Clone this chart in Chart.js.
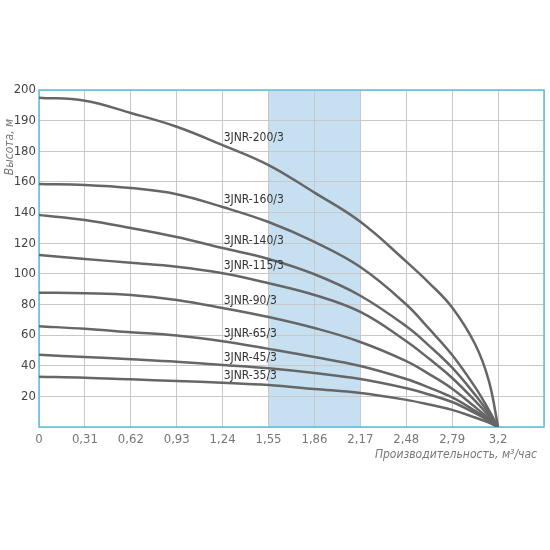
<!DOCTYPE html>
<html>
<head>
<meta charset="utf-8">
<script src="https://cdn.jsdelivr.net/npm/chart.js@4/dist/chart.umd.min.js"></script>
<style>
    html, body { margin: 0; padding: 0; background: #fff; }
    #grafico { display: block; }
</style>
</head>
<body>
<canvas id="grafico" width="550" height="550"></canvas>
<script>
// eixo x em divisões da grade (0..11), rótulos vêm da figura
const rotulosX = ['0', '0,31', '0,62', '0,93', '1,24', '1,55', '1,86', '2,17', '2,48', '2,79', '3,2', ''];
// eixo y em divisões de 20 (0..220)
const rotulosY = ['', '20', '40', '60', '80', '100', '120', '140', '160', '180', '190', '200'];

const pontosX = [0, 1, 2, 3, 4, 5, 6, 7, 8, 8.5, 9, 9.5, 9.8, 10];

const nomesBombas = ['3JNR-200/3', '3JNR-160/3', '3JNR-140/3', '3JNR-115/3', '3JNR-90/3', '3JNR-65/3', '3JNR-45/3', '3JNR-35/3'];

const alturas200 = [215, 213, 205, 196, 184, 171, 153, 134, 108, 94, 78, 54, 30, 0];
const alturas160 = [158.6, 158, 156, 152, 143.6, 133.8, 120.8, 104.4, 80, 64, 47, 26, 11, 0];
const alturas140 = [138.4, 135.1, 129.9, 124, 116.8, 109.7, 99.7, 85.7, 65.7, 53, 38.7, 21, 9, 0];
const alturas115 = [112.3, 109.7, 107.2, 104.6, 100.4, 93.9, 86.2, 75.1, 56, 44.5, 32, 17, 7.2, 0];
const alturas90 = [87.7, 87.3, 86.2, 82.9, 77.7, 71.8, 64.6, 55.5, 43, 34.5, 25, 13, 5.5, 0];
const alturas65 = [65.8, 64.1, 61.9, 59.7, 56, 51, 45.7, 39.8, 31.3, 25.7, 19.3, 10.5, 4.5, 0];
const alturas45 = [47.1, 45.7, 44.2, 42.6, 40.5, 38.3, 35.2, 31.3, 25.3, 21.2, 16.3, 9, 4, 0];
const alturas35 = [32.8, 32.2, 31.1, 30, 28.9, 27.4, 24.8, 22.2, 17.7, 14.7, 11.2, 6.2, 2.8, 0];

const todasAlturas = [alturas200, alturas160, alturas140, alturas115, alturas90, alturas65, alturas45, alturas35];

// faixa azul de trabalho (divisões da grade)
const faixaInicio = 5;
const faixaFim = 7;

const FONTE = '"Liberation Sans Narrow", "DejaVu Sans Condensed", "Arial Narrow", sans-serif';
const COR_BORDA = '#5cc0d8';

function montarDatasets() {
    var lista = [];
    for (let i = 0; i < nomesBombas.length; i++) {
        lista.push({
            label: nomesBombas[i],
            data: pontosX.map((x, j) => ({ x: x, y: todasAlturas[i][j] })),
            showLine: true,
            borderColor: '#666666',
            borderWidth: 2.5,
            pointRadius: 0,
            tension: 0.4,
            fill: false
        });
    }
    return lista;
}

const pluginFundo = {
    id: 'fundo',
    beforeDraw(chart) {
        const ctx = chart.ctx;
        const area = chart.chartArea;
        const x = chart.scales.x;
        ctx.save();
        ctx.fillStyle = '#c6e0f1';
        var x0 = x.getPixelForValue(faixaInicio);
        var x1 = x.getPixelForValue(faixaFim);
        ctx.fillRect(x0, area.top, x1 - x0, area.bottom - area.top);
        ctx.restore();
    },
    beforeDatasetsDraw(chart) {
        const ctx = chart.ctx;
        const area = chart.chartArea;
        ctx.save();
        ctx.strokeStyle = COR_BORDA;
        ctx.lineWidth = 1.5;
        ctx.strokeRect(area.left, area.top, area.right - area.left, area.bottom - area.top);
        ctx.restore();
    },
    afterDatasetsDraw(chart) {
        const ctx = chart.ctx;
        const x = chart.scales.x;
        const y = chart.scales.y;
        ctx.save();

        // nomes das curvas, logo acima da curva na divisão 4
        ctx.font = '12px ' + FONTE;
        ctx.fillStyle = '#333333';
        ctx.textAlign = 'left';
        ctx.textBaseline = 'bottom';
        for (let i = 0; i < nomesBombas.length; i++) {
            var px = x.getPixelForValue(4) + 1;
            var py = y.getPixelForValue(todasAlturas[i][4]) - 1;
            ctx.fillText(nomesBombas[i], px, py);
        }

        // títulos dos eixos
        ctx.fillStyle = '#777777';
        ctx.font = 'italic 12px ' + FONTE;
        ctx.textAlign = 'right';
        ctx.textBaseline = 'middle';
        ctx.fillText('Производительность, м³/час', 537, 455);

        ctx.translate(10, 147);
        ctx.rotate(-Math.PI / 2);
        ctx.textAlign = 'center';
        ctx.fillText('Высота, м', 0, 0);
        ctx.restore();
    }
};

var config = {
    type: 'scatter',
    data: { datasets: montarDatasets() },
    plugins: [pluginFundo],
    options: {
        responsive: false,
        animation: false,
        layout: {
            padding: { top: 90, right: 6, bottom: 73, left: 0 }
        },
        scales: {
            x: {
                type: 'linear',
                min: 0,
                max: 11,
                afterFit: (scale) => { scale.height = 50; },
                grid: { color: '#c8c8c8', lineWidth: 1, drawTicks: false },
                border: { display: false },
                ticks: {
                    stepSize: 1,
                    padding: 5,
                    color: '#777777',
                    font: { family: FONTE, size: 13 },
                    maxRotation: 0,
                    autoSkip: false,
                    callback: (value) => rotulosX[value]
                }
            },
            y: {
                type: 'linear',
                min: 0,
                max: 220,
                afterFit: (scale) => { scale.width = 39; },
                grid: { color: '#c8c8c8', lineWidth: 1, drawTicks: false },
                border: { display: false },
                ticks: {
                    stepSize: 20,
                    padding: 3,
                    color: '#444444',
                    font: { family: FONTE, size: 13 },
                    callback: (value) => rotulosY[value / 20]
                }
            }
        },
        plugins: {
            legend: { display: false },
            tooltip: { enabled: false }
        }
    }
};

new Chart(document.getElementById('grafico'), config);
</script>
</body>
</html>
